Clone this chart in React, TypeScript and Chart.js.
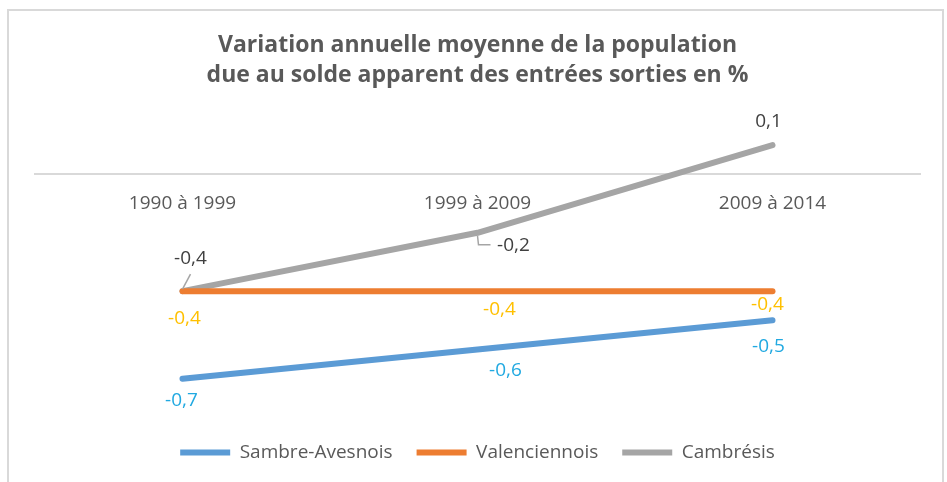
import { useEffect, useRef } from "react";
import { Chart, registerables } from "chart.js";

Chart.register(...registerables);

// ---- Data ----
const categories = ["1990 à 1999", "1999 à 2009", "2009 à 2014"];
const seriesNames = ["Sambre-Avesnois", "Valenciennois", "Cambrésis"];
const sambreAvesnois = [-0.7, -0.6, -0.5];
const valenciennois = [-0.4, -0.4, -0.4];
const cambresis = [-0.4, -0.2, 0.1];
const titleLines = [
  "Variation annuelle moyenne de la population",
  "due au solde apparent des entrées sorties en %",
];

// ---- Styles ----
const lineColors = ["#5B9BD5", "#ED7D31", "#A5A5A5"];
const labelColors = ["#21A9E1", "#FFC000", "#404040"];
const labelOffsets = [
  [[-1, 22], [28, 21], [-4, 26]],
  [[2, 27], [22, 18], [-5, 13]],
  [[8, -33], [36, 13], [-4, -24]],
];
// leader lines (relative to point) for some labels: [datasetIndex, pointIndex, polyline]
const leaders: [number, number, number[][]][] = [
  [2, 0, [[0, -2], [8, -17]]],
  [2, 1, [[0, 3], [1, 12], [13, 12]]],
];
const FONT = "'Open Sans', 'Noto Sans', sans-serif";

const dataLabelPlugin = {
  id: "dataLabels",
  afterDatasetsDraw(chart: any) {
    const ctx = chart.ctx;
    ctx.save();
    ctx.strokeStyle = "#A5A5A5";
    ctx.lineWidth = 1.5;
    for (const [di, pi, poly] of leaders) {
      const pt = chart.getDatasetMeta(di).data[pi];
      ctx.beginPath();
      poly.forEach((p, k) => {
        if (k === 0) ctx.moveTo(pt.x + p[0], pt.y + p[1]);
        else ctx.lineTo(pt.x + p[0], pt.y + p[1]);
      });
      ctx.stroke();
    }
    ctx.font = `19px ${FONT}`;
    ctx.textAlign = "center";
    ctx.textBaseline = "middle";
    chart.data.datasets.forEach((ds: any, di: number) => {
      const meta = chart.getDatasetMeta(di);
      meta.data.forEach((pt: any, i: number) => {
        const v = ds.data[i];
        const txt = String(v).replace(".", ",");
        const [dx, dy] = labelOffsets[di][i];
        ctx.fillStyle = labelColors[di];
        ctx.fillText(txt, pt.x + dx, pt.y + dy);
      });
    });
    ctx.restore();
  },
};

export default function App() {
  const ref = useRef<HTMLCanvasElement | null>(null);
  useEffect(() => {
    if (!ref.current) return;
    const seriesData = [sambreAvesnois, valenciennois, cambresis];
    const chart = new Chart(ref.current, {
      type: "line",
      data: {
        labels: categories,
        datasets: seriesNames.map((name, i) => ({
          label: name,
          data: seriesData[i],
          borderColor: lineColors[i],
          backgroundColor: lineColors[i],
          borderWidth: 6,
          borderCapStyle: "round",
          borderJoinStyle: "round",
          pointRadius: 0,
          pointHoverRadius: 0,
          tension: 0,
          fill: false,
        })),
      },
      options: {
        responsive: false,
        animation: false,
        devicePixelRatio: 1,
        layout: { padding: { top: 0, left: 35, right: 27, bottom: 10 } },
        scales: {
          x: {
            type: "category",
            offset: true,
            position: { y: 0 } as any,
            grid: { display: false },
            border: { display: true, color: "#D9D9D9", width: 2 },
            ticks: {
              color: "#595959",
              font: { family: FONT, size: 19 },
              padding: 10,
              maxRotation: 0,
            },
          },
          y: {
            display: false,
            min: -0.838,
            max: 0.2,
          },
        },
        plugins: {
          title: {
            display: true,
            text: titleLines,
            color: "#595959",
            font: { family: FONT, size: 23, weight: "bold", lineHeight: 30 / 23 },
            padding: { top: 30, bottom: 26 },
          },
          legend: {
            display: true,
            position: "bottom",
            labels: {
              usePointStyle: true,
              pointStyle: "line",
              pointStyleWidth: 50,
              padding: 24,
              color: "#595959",
              font: { family: FONT, size: 19 },
            },
          },
          tooltip: { enabled: false },
        },
      },
      plugins: [dataLabelPlugin],
    } as any);
    return () => chart.destroy();
  }, []);

  return (
    <div style={{ position: "fixed", left: 0, top: 0, width: 947, height: 482, background: "#fff", overflow: "hidden" }}>
      <div
        style={{
          position: "absolute",
          left: 7,
          top: 9,
          width: 937,
          height: 500,
          boxSizing: "border-box",
          borderTop: "2px solid #D9D9D9",
          borderLeft: "2px solid #D9D9D9",
          borderRight: "2px solid #D9D9D9",
        }}
      />
      <canvas ref={ref} width={947} height={482} style={{ position: "absolute", left: 0, top: 0, display: "block" }} />
    </div>
  );
}
